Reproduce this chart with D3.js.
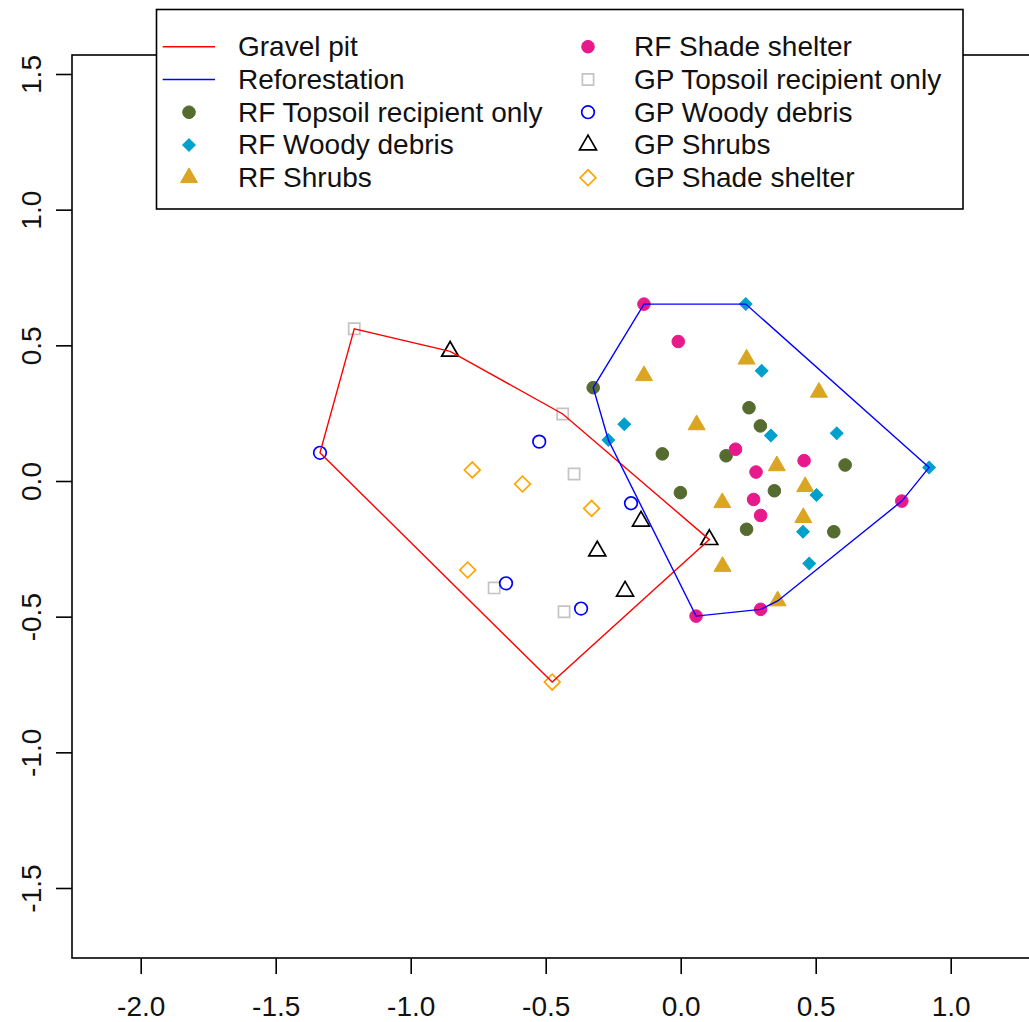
<!DOCTYPE html>
<html><head><meta charset="utf-8">
<script src="https://cdn.jsdelivr.net/npm/d3@7"></script>
<style>
html,body{margin:0;padding:0;background:#fff;}
svg text{font-family:"Liberation Sans",Arial,sans-serif;fill:#111;}
</style></head>
<body>
<svg id="chart" width="1029" height="1022"></svg>
<script>
// ---------- data ----------
const xTicks = [-2.0, -1.5, -1.0, -0.5, 0.0, 0.5, 1.0];
const xTickLabels = ["-2.0", "-1.5", "-1.0", "-0.5", "0.0", "0.5", "1.0"];
const yTicks = [-1.5, -1.0, -0.5, 0.0, 0.5, 1.0, 1.5];
const yTickLabels = ["-1.5", "-1.0", "-0.5", "0.0", "0.5", "1.0", "1.5"];

const groupNames = ["RF Topsoil recipient only", "RF Woody debris", "RF Shrubs", "RF Shade shelter",
                    "GP Topsoil recipient only", "GP Woody debris", "GP Shrubs", "GP Shade shelter"];
const hullNames = ["Gravel pit", "Reforestation"];

const rfTopsoil = [[-0.324,0.344],[0.253,0.270],[0.295,0.203],[-0.068,0.100],[0.168,0.093],
                   [0.609,0.059],[-0.001,-0.043],[0.347,-0.036],[0.244,-0.178],[0.567,-0.187]];
const rfWoody   = [[0.241,0.652],[0.300,0.406],[-0.209,0.209],[-0.268,0.151],[0.334,0.168],
                   [0.578,0.176],[0.920,0.050],[0.503,-0.052],[0.453,-0.187],[0.476,-0.304]];
const rfShrubs  = [[0.244,0.449],[-0.136,0.388],[0.512,0.327],[0.059,0.207],[0.356,0.056],
                   [0.461,-0.021],[0.154,-0.080],[0.454,-0.135],[0.155,-0.315],[0.359,-0.442]];
const rfShade   = [[-0.136,0.652],[-0.009,0.514],[0.203,0.117],[0.457,0.075],[0.279,0.033],
                   [0.270,-0.068],[0.819,-0.074],[0.296,-0.127],[0.296,-0.473],[0.057,-0.498]];
const gpTopsoil = [[-1.209,0.561],[-0.437,0.247],[-0.395,0.026],[-0.691,-0.394],[-0.432,-0.482]];
const gpWoody   = [[-1.336,0.104],[-0.524,0.145],[-0.184,-0.082],[-0.647,-0.377],[-0.369,-0.470]];
const gpShrubs  = [[-0.854,0.478],[-0.147,-0.148],[0.106,-0.216],[-0.309,-0.258],[-0.206,-0.406]];
const gpShade   = [[-0.772,0.041],[-0.586,-0.011],[-0.330,-0.101],[-0.789,-0.328],[-0.476,-0.741]];

// ---------- styles ----------
const R = 6.3;
const styles = [
  {type:"circle",  fill:"#556B2F", stroke:"#556B2F"},
  {type:"fdiamond",fill:"#00A0CC", stroke:"#00A0CC"},
  {type:"triangle",fill:"#DAA520", stroke:"#DAA520"},
  {type:"circle",  fill:"#E8198B", stroke:"#E8198B"},
  {type:"square",  fill:"none",    stroke:"#C4C4C4"},
  {type:"circle",  fill:"none",    stroke:"#0000FF"},
  {type:"triangle",fill:"none",    stroke:"#000000"},
  {type:"diamond", fill:"none",    stroke:"#FFA500"}
];
const groups = [rfTopsoil, rfWoody, rfShrubs, rfShade, gpTopsoil, gpWoody, gpShrubs, gpShade];
const hullColors = ["#FF0000", "#0000FF"];

function symPath(type){
  if(type==="circle") return {p:d3.symbol(d3.symbolCircle, Math.PI*R*R)(), rot:0};
  if(type==="square") return {p:d3.symbol(d3.symbolSquare, Math.pow(1.772*R,2))(), rot:0};
  if(type==="diamond") return {p:d3.symbol(d3.symbolSquare, Math.pow(1.772*R,2))(), rot:45};
  if(type==="fdiamond") return {p:d3.symbol(d3.symbolSquare, 2*R*R)(), rot:45};
  if(type==="triangle") return {p:d3.symbol(d3.symbolTriangle, Math.PI*R*R)(), rot:0};
}

// ---------- layout ----------
const svg = d3.select("#chart");
const x = d3.scaleLinear().domain([-2, 1]).range([140.7, 950.7]);
const y = d3.scaleLinear().domain([-1.5, 1.5]).range([888, 74]);
const box = {l:72, t:55, r:1040, b:958};

// points
groups.forEach((g,i)=>{
  const st = styles[i], sp = symPath(st.type);
  svg.append("g").selectAll("path").data(g).join("path")
    .attr("d", sp.p)
    .attr("transform", d=>`translate(${x(d[0])},${y(d[1])}) rotate(${sp.rot})`)
    .attr("fill", st.fill).attr("stroke", st.stroke)
    .attr("stroke-width", st.fill==="none"?1.7:1);
});

// hulls
const gpAll = [].concat(gpTopsoil, gpWoody, gpShrubs, gpShade);
const rfAll = [].concat(rfTopsoil, rfWoody, rfShrubs, rfShade);
[gpAll, rfAll].forEach((pts,i)=>{
  const hull = d3.polygonHull(pts.map(d=>[x(d[0]), y(d[1])]));
  svg.append("path").attr("d", "M" + hull.map(p=>p.join(",")).join("L") + "Z")
    .attr("fill","none").attr("stroke", hullColors[i]).attr("stroke-width",1.4);
});

// box
svg.append("rect").attr("x",box.l).attr("y",box.t).attr("width",box.r-box.l).attr("height",box.b-box.t)
  .attr("fill","none").attr("stroke","#000").attr("stroke-width",1.6);

// axes
const xAxis = d3.axisBottom(x).tickValues(xTicks).tickSize(16).tickPadding(22)
  .tickFormat((d,i)=>xTickLabels[i]);
const gx = svg.append("g").attr("transform",`translate(0,${box.b})`).call(xAxis);
gx.select(".domain").remove();
gx.selectAll(".tick line").attr("stroke","#000").attr("stroke-width",1.6);
gx.selectAll(".tick text").attr("font-size",28).attr("fill","#111")
  .attr("font-family","Liberation Sans, Arial, sans-serif");

const yAxis = d3.axisLeft(y).tickValues(yTicks).tickSize(16).tickFormat((d,i)=>yTickLabels[i]);
const gy = svg.append("g").attr("transform",`translate(${box.l},0)`).call(yAxis);
gy.select(".domain").remove();
gy.selectAll(".tick line").attr("stroke","#000").attr("stroke-width",1.6);
gy.selectAll(".tick text").attr("font-size",28).attr("fill","#111")
  .attr("font-family","Liberation Sans, Arial, sans-serif")
  .attr("x",null).attr("dy",null)
  .attr("text-anchor","middle").attr("dominant-baseline","central")
  .attr("transform","translate(-41,0) rotate(-90)");

// legend
const lg = svg.append("g");
lg.append("rect").attr("x",156.5).attr("y",9.5).attr("width",806.5).attr("height",199.5)
  .attr("fill","#fff").attr("stroke","#000").attr("stroke-width",1.6);
const rowY = i => 46.7 + i*32.75;
const col1 = [{kind:"line", name:hullNames[0], color:hullColors[0]},
              {kind:"line", name:hullNames[1], color:hullColors[1]},
              {kind:"pt", g:0},{kind:"pt", g:1},{kind:"pt", g:2}];
const col2 = [{kind:"pt", g:3},{kind:"pt", g:4},{kind:"pt", g:5},{kind:"pt", g:6},{kind:"pt", g:7}];
function drawItem(it, row, symX, lineX0, lineX1, textX){
  const yy = rowY(row);
  if(it.kind==="line"){
    lg.append("line").attr("x1",lineX0).attr("x2",lineX1).attr("y1",yy).attr("y2",yy)
      .attr("stroke",it.color).attr("stroke-width",1.6);
  } else {
    const st = styles[it.g], sp = symPath(st.type);
    lg.append("path").attr("d",sp.p).attr("transform",`translate(${symX},${yy}) rotate(${sp.rot})`)
      .attr("fill",st.fill).attr("stroke",st.stroke).attr("stroke-width", st.fill==="none"?1.7:1);
  }
  lg.append("text").attr("x",textX).attr("y",yy).attr("dominant-baseline","central")
    .attr("font-size",28).text(it.kind==="line"? it.name : groupNames[it.g]);
}
col1.forEach((it,i)=>drawItem(it,i,189,162.7,215,238));
col2.forEach((it,i)=>drawItem(it,i,588,0,0,634));
</script>
</body></html>
